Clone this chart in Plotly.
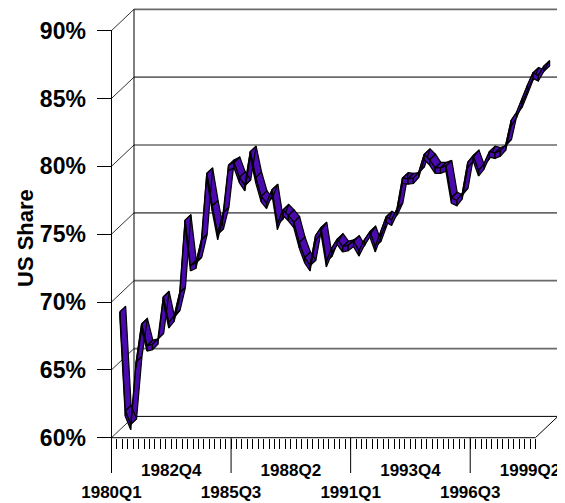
import plotly.graph_objects as go

# ---------------- data ----------------
quarters = [f"{1980 + k // 4}Q{k % 4 + 1}" for k in range(79)]   # 1980Q1 .. 1999Q3
us_share = [68.5, 61.2, 60.2, 64.8, 67.6, 66.0, 66.1, 66.5, 69.6, 67.7,
            68.2, 69.9, 75.25, 71.9, 72.1, 73.8, 78.7, 76.3, 74.2, 75.8,
            79.3, 79.5, 78.4, 77.8, 80.3, 78.4, 77.0, 76.5, 77.5, 74.95,
            76.0, 75.6, 75.1, 73.6, 72.5, 71.9, 74.1, 74.7, 72.2, 73.2,
            73.85, 73.3, 73.4, 73.7, 73.0, 73.8, 74.4, 73.3, 74.4, 75.5,
            75.25, 76.1, 78.35, 78.3, 78.35, 78.8, 80.1, 79.7, 79.1, 79.1,
            79.25, 76.9, 76.7, 77.2, 79.5, 80.0, 78.9, 79.4, 80.3, 80.2,
            80.35, 80.8, 82.6, 83.2, 84.2, 85.2, 86.1, 85.9, 86.6]
y_ticks = [60, 65, 70, 75, 80, 85, 90]
y_tick_labels = ["60%", "65%", "70%", "75%", "80%", "85%", "90%"]
label_step = 11
major_step = 22

# ---------------- geometry (3-D look) ----------------
W, H = 565, 503
OFF = 8           # page body margin offset
PX_Q = 5.435      # px per quarter
PX_P = 13.57      # px per percent
X0_PX = 111.5 - OFF   # pixel of first category on front plane
Y60_PX = 437.7 - OFF  # pixel of 60 % on front plane
DX = 22.5 / PX_Q  # depth offset (quarters)
DY = 21.3 / PX_P  # depth offset (percent)

n = len(us_share)
idx = list(range(n))
xmin, xmax = -X0_PX / PX_Q, (W - X0_PX) / PX_Q
ymax = 60 + Y60_PX / PX_P
ymin = 60 - (H - Y60_PX) / PX_P
ylo, yhi = y_ticks[0], y_ticks[-1]
xlast = n - 1

fig = go.Figure()

def lines(xs, ys, color, width):
    fig.add_trace(go.Scatter(x=xs, y=ys, mode="lines", hoverinfo="skip",
                             line=dict(color=color, width=width), showlegend=False))

def add_poly(px, py, xs, ys):
    # keep a consistent winding so overlapping polygons all stay filled
    area = 0.0
    for k in range(len(xs)):
        x1, y1 = xs[k] * PX_Q, ys[k] * PX_P
        x2, y2 = xs[(k + 1) % len(xs)] * PX_Q, ys[(k + 1) % len(xs)] * PX_P
        area += x1 * y2 - x2 * y1
    if area < 0:
        xs, ys = xs[::-1], ys[::-1]
    px += xs + [xs[0], None]
    py += ys + [ys[0], None]

def polys(xs, ys, fill, edge, width):
    fig.add_trace(go.Scatter(x=xs, y=ys, mode="lines", fill="toself", fillcolor=fill,
                             line=dict(color=edge, width=width), hoverinfo="skip",
                             showlegend=False))

# back wall gridlines
gx, gy = [], []
for v in y_ticks[1:]:
    gx += [DX, xlast + DX, None]
    gy += [v + DY, v + DY, None]
lines(gx, gy, "#6a6a6a", 1.7)
# left side wall diagonals
dx_, dy_ = [], []
for v in y_ticks:
    dx_ += [0, DX, None]
    dy_ += [v, v + DY, None]
lines(dx_, dy_, "#333333", 1)
# back wall edges + floor
lines([DX, DX, None, xlast + DX, xlast + DX, None, DX, xlast + DX, xlast, 0],
      [ylo + DY, yhi + DY, None, ylo + DY, yhi + DY, None, ylo + DY, ylo + DY, ylo, ylo],
      "#000000", 1)

# long major ticks + front vertical axis
mx, my = [0, 0, None], [yhi, ylo - 35.3 / PX_P, None]
for k in range(major_step, n, major_step):
    mx += [k, k, None]
    my += [ylo, ylo - 35.3 / PX_P, None]
lines(mx, my, "#000000", 1)

# ---------------- ribbon ----------------
PURPLE = "#4b0aae"
DF, DB = 0.37, 0.63
T = 2.7 / PX_P          # half thickness of ribbon (percent)
xf = [i + DF * DX for i in idx]
yf = [v + DF * DY for v in us_share]
xb = [i + DB * DX for i in idx]
yb = [v + DB * DY for v in us_share]

# top surface strips + end cap
qx, qy = [], []
for i in range(n - 1):
    add_poly(qx, qy, [xf[i], xf[i + 1], xb[i + 1], xb[i]],
             [yf[i] + T, yf[i + 1] + T, yb[i + 1] + T, yb[i] + T])
j = n - 1
add_poly(qx, qy, [xf[j], xb[j], xb[j], xf[j]],
         [yf[j] + T, yb[j] + T, yb[j] - T, yf[j] - T])
polys(qx, qy, PURPLE, "#000000", 1.2)

# front face band
fx, fy = [], []
for i in range(n - 1):
    add_poly(fx, fy, [xf[i], xf[i + 1], xf[i + 1], xf[i]],
             [yf[i] + T, yf[i + 1] + T, yf[i + 1] - T, yf[i] - T])
polys(fx, fy, PURPLE, "#000000", 1.2)

# ---------------- axes ----------------
xt_text = []
for k in idx:
    if k % label_step == 0:
        row = (k // label_step) % 2
        xt_text.append(quarters[k] if row == 1 else " <br>" + quarters[k])
    else:
        xt_text.append("")

fig.update_layout(
    width=W, height=H, margin=dict(l=0, r=0, t=0, b=0),
    paper_bgcolor="white", plot_bgcolor="white", showlegend=False,
    font=dict(family="Liberation Sans, Arial, sans-serif", color="black"),
    xaxis=dict(range=[xmin, xmax], domain=[0, 1], anchor="free",
               position=1 - Y60_PX / H, showgrid=False, zeroline=False,
               showline=False, ticks="outside", ticklen=10, tickwidth=1,
               tickcolor="black", tickvals=idx, ticktext=xt_text, tickangle=0,
               ticklabelstandoff=7,
               tickfont=dict(size=17, weight="bold", color="black")),
    yaxis=dict(range=[ymin, ymax], domain=[0, 1], anchor="free",
               position=X0_PX / W, showgrid=False, zeroline=False,
               showline=False, ticks="outside", ticklen=15, tickwidth=1,
               tickcolor="black", tickvals=y_ticks, ticktext=y_tick_labels,
               ticklabelstandoff=6,
               tickfont=dict(size=23, weight="bold", color="black")),
    annotations=[dict(text="US Share", xref="paper", yref="paper",
                      x=(25 - OFF) / W, y=1 - (238 - OFF) / H, showarrow=False,
                      xanchor="center", yanchor="middle", textangle=-90,
                      font=dict(size=22, weight="bold", color="black"))],
)

fig.write_html("out.html")
